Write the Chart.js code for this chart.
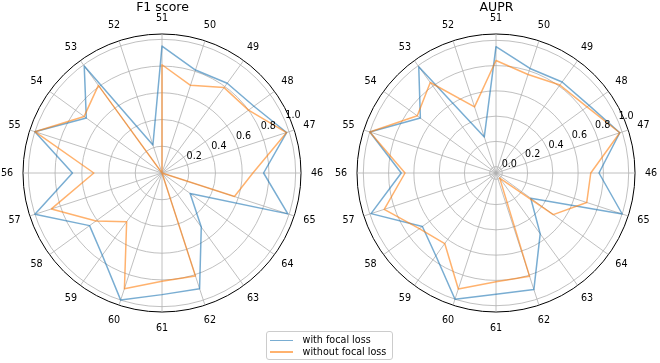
<!DOCTYPE html>
<html>
<head>
<meta charset="utf-8">
<script src="https://cdn.jsdelivr.net/npm/chart.js@4.4.0/dist/chart.umd.min.js"></script>
<style>
  body { margin: 0; background: #fff; }
  #wrap { position: relative; width: 660px; height: 363px; overflow: hidden; }
  canvas { position: absolute; top: 0; }
  #legend {
    position: absolute; left: 266px; top: 331px; width: 125px; height: 27px;
    border: 1px solid #cccccc; border-radius: 3px; background: rgba(255,255,255,0.8);
    font: 9.6px "DejaVu Sans"; color: #000;
  }
  #legend .row { position: absolute; left: 0; height: 12px; line-height: 12px; width: 100%; }
  #legend .sw { position: absolute; left: 3px; top: 5.3px; width: 22.6px; height: 1.5px; }
  #legend .tx { position: absolute; left: 35.6px; top: 0; white-space: nowrap; }
</style>
</head>
<body>
<div id="wrap">
  <canvas id="f1" width="330" height="363" style="left:0"></canvas>
  <canvas id="aupr" width="330" height="363" style="left:330px"></canvas>
  <div id="legend">
    <div class="row" style="top:2.3px"><span class="sw" style="background:rgba(31,119,180,0.6)"></span><span class="tx">with focal loss</span></div>
    <div class="row" style="top:14px"><span class="sw" style="background:rgba(255,127,14,0.6)"></span><span class="tx">without focal loss</span></div>
  </div>
</div>
<script>
// categories in their natural order; 46 sits at 0 deg (east) and they go counterclockwise
const CATEGORIES = ['46','47','48','49','50','51','52','53','54','55','56','57','58','59','60','61','62','63','64','65']

const F1_WITH     = [0.76, 0.98, 0.85, 0.83, 0.81, 0.95, 0.22, 0.99, 0.70, 1.00, 0.67, 1.00, 0.67, 0.76, 1.00, 0.91, 0.91, 0.50, 0.26, 0.99]
const F1_WITHOUT  = [0.68, 0.98, 0.80, 0.79, 0.69, 0.81, 0.00, 0.81, 0.72, 1.00, 0.51, 0.87, 0.61, 0.45, 0.91, 0.81, 0.81, 0.00, 0.00, 0.57]
const AUPR_WITH    = [0.765, 0.98, 0.86, 0.84, 0.82, 0.95, 0.25, 0.99, 0.69, 1.00, 0.70, 0.99, 0.67, 0.76, 1.00, 0.91, 0.92, 0.545, 0.29, 1.00]
const AUPR_WITHOUT = [0.70, 0.98, 0.84, 0.81, 0.77, 0.84, 0.50, 0.835, 0.72, 1.00, 0.67, 0.88, 0.70, 0.64, 0.915, 0.81, 0.81, 0.00, 0.51, 0.705]

const F1_RINGS   = [0.2, 0.4, 0.6, 0.8, 1.0]
const AUPR_RINGS = [0.0, 0.2, 0.4, 0.6, 0.8, 1.0]

const BLUE = 'rgba(31,119,180,0.6)'
const ORANGE = 'rgba(255,127,14,0.6)'
const FONT = '"DejaVu Sans"'

// chart.js radar goes clockwise from the top, so reorder: 51, 50, ... 46, 65, ... 52
const order = CATEGORIES.map((_, i) => (25 - i) % 20)
const reorder = arr => order.map(k => arr[k])

// matplotlib-ish labels: category names round the rim, ring values along 22.5 deg
const polarText = {
  id: 'polarText',
  afterDraw(chart, args, opts) {
    const s = chart.scales.r
    const ctx = chart.ctx
    ctx.save()
    ctx.fillStyle = '#000'
    ctx.font = '9.6px ' + FONT
    ctx.textAlign = 'center'
    ctx.textBaseline = 'middle'
    chart.data.labels.forEach((lab, i) => {
      const p = s.getPointPosition(i, s.drawingArea + 16)
      ctx.fillText(lab, p.x, p.y)
    })
    const a = 22.5 * Math.PI / 180
    opts.rings.forEach(v => {
      const d = s.getDistanceFromCenterForValue(v)
      ctx.fillText(v.toFixed(1), s.xCenter + d * Math.cos(a) + 7.5, s.yCenter - d * Math.sin(a) - 6)
    })
    ctx.restore()
  }
}

function makeRadar(id, title, withVals, withoutVals, rMin, rMax, rings, pad) {
  const gridTicks = [0, 0.2, 0.4, 0.6, 0.8, 1.0, rMax]
  return new Chart(document.getElementById(id), {
    type: 'radar',
    data: {
      labels: reorder(CATEGORIES),
      datasets: [
        { label: 'with focal loss', data: reorder(withVals), borderColor: BLUE, order: 2 },
        { label: 'without focal loss', data: reorder(withoutVals), borderColor: ORANGE, order: 1 }
      ]
    },
    options: {
      responsive: false,
      animation: false,
      devicePixelRatio: 1,
      layout: { padding: pad },
      elements: {
        point: { radius: 0, hoverRadius: 0 },
        line: { borderWidth: 1.5, fill: false, tension: 0, borderJoinStyle: 'round' }
      },
      scales: {
        r: {
          min: rMin,
          max: rMax,
          startAngle: 0,
          afterBuildTicks: s => { s.ticks = gridTicks.map(v => ({ value: v })) },
          ticks: { display: false },
          pointLabels: { display: false },
          grid: {
            circular: true,
            color: c => (c.tick && c.tick.value > 1.001) ? '#000' : '#b0b0b0',
            lineWidth: c => (c.tick && c.tick.value > 1.001) ? 1 : 0.8
          },
          angleLines: { color: '#b0b0b0', lineWidth: 0.8 }
        }
      },
      plugins: {
        legend: false,
        tooltip: { enabled: false },
        title: {
          display: true,
          text: title,
          color: '#000',
          font: { family: FONT, size: 12.5, weight: 'normal', lineHeight: 1.2 },
          padding: { top: 0, bottom: 19 }
        },
        polarText: { rings: rings }
      }
    },
    plugins: [polarText]
  })
}

makeRadar('f1', 'F1 score', F1_WITH, F1_WITHOUT, 0, 1.04, F1_RINGS, { left: 23, right: 28, top: 0, bottom: 50 })
makeRadar('aupr', 'AUPR', AUPR_WITH, AUPR_WITHOUT, -0.05, 1.05, AUPR_RINGS, { left: 27, right: 24, top: 0, bottom: 50 })
</script>
</body>
</html>
